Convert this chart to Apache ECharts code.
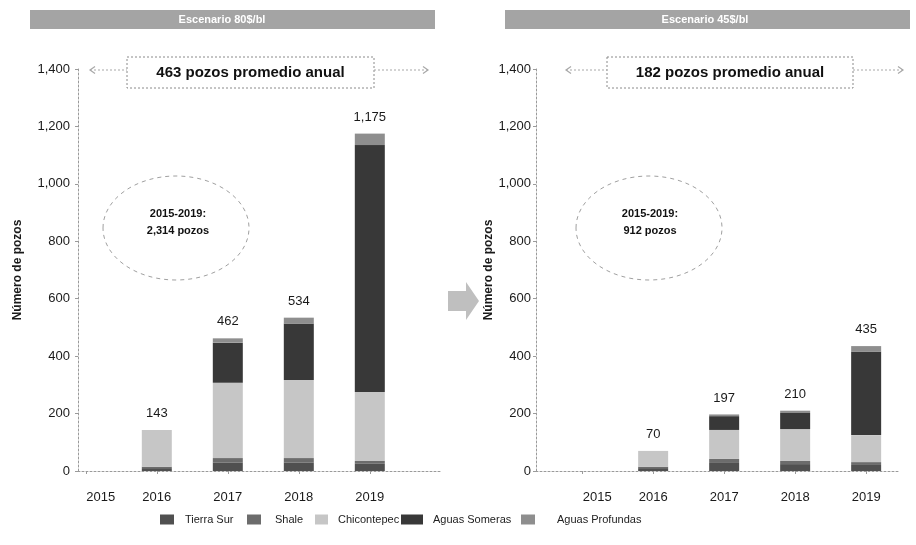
<!DOCTYPE html>
<html>
<head>
<meta charset="utf-8">
<script src="https://cdn.jsdelivr.net/npm/echarts@6/dist/echarts.min.js"></script>
<style>
  html, body { margin: 0; padding: 0; background: #fff; }
  #chart { width: 916px; height: 545px; }
</style>
</head>
<body>
<div id="chart"></div>
<script>
// Years on the horizontal axis
const years = [2015, 2016, 2017, 2018, 2019];
const seriesNames = ['Tierra Sur', 'Shale', 'Chicontepec', 'Aguas Someras', 'Aguas Profundas'];

// Wells per year, scenario 80 $/bl
const tierraSur80      = [0, 10, 30, 30, 25];
const shale80          = [0, 5, 15, 15, 10];
const chicontepec80    = [0, 128, 262, 272, 240];
const aguasSomeras80   = [0, 0, 140, 197, 860];
const aguasProfundas80 = [0, 0, 15, 20, 40];

// Wells per year, scenario 45 $/bl
const tierraSur45      = [0, 10, 28, 24, 21];
const shale45          = [0, 5, 14, 11, 10];
const chicontepec45    = [0, 55, 101, 111, 94];
const aguasSomeras45   = [0, 0, 48, 56, 290];
const aguasProfundas45 = [0, 0, 6, 8, 20];

// y-axis ticks
const yTicks = [0, 200, 400, 600, 800, 1000, 1200, 1400];

// Panel texts
const panelTitles = ['Escenario 80$/bl', 'Escenario 45$/bl'];
const averageTexts = ['463 pozos promedio anual', '182 pozos promedio anual'];
const periodLabel = '2015-2019:';
const periodTotals = ['2,314 pozos', '912 pozos'];

const colors = ['#505050', '#6c6c6c', '#c6c6c6', '#383838', '#8e8e8e'];

const panels = [
  [tierraSur80, shale80, chicontepec80, aguasSomeras80, aguasProfundas80],
  [tierraSur45, shale45, chicontepec45, aguasSomeras45, aguasProfundas45]
];

const totals = panels.map(p => years.map((_, i) => p.reduce((s, arr) => s + arr[i], 0)));

const fmt = v => v.toLocaleString('en-US');

// Geometry of the two plot areas (pixels) and the year span they show
const grids = [
  { left: 78, top: 69, width: 362, height: 402, yearMin: 2014.89 },
  { left: 536, top: 69, width: 364, height: 402, yearMin: 2014.35 }
];
const pxPerYear = 71;

const FONT = 'Liberation Sans, Arial, sans-serif';
const axisColor = '#9a9a9a';

// Legend placement: swatch left edge, swatch width, gap to text
const legendSlots = [
  { left: 160, w: 14, gap: 11 },
  { left: 247, w: 14, gap: 14 },
  { left: 315, w: 13, gap: 10 },
  { left: 401, w: 22, gap: 10 },
  { left: 521, w: 14, gap: 22 }
];

const option = {
  animation: false,
  backgroundColor: '#fff',
  textStyle: { fontFamily: FONT },
  grid: grids.map(g => ({ left: g.left, top: g.top, width: g.width, height: g.height, containLabel: false })),
  xAxis: grids.map((g, k) => ({
    type: 'value',
    gridIndex: k,
    min: g.yearMin,
    max: g.yearMin + g.width / pxPerYear,
    splitNumber: 5,
    splitLine: { show: false },
    axisLine: { show: true, lineStyle: { color: axisColor, type: [2, 2], width: 1 } },
    axisTick: { show: true, length: 3, lineStyle: { color: axisColor } },
    axisLabel: {
      showMinLabel: false,
      showMaxLabel: false,
      color: '#1a1a1a',
      fontSize: 13,
      margin: 20,
      formatter: v => {
        if (Math.abs(v - Math.round(v)) > 1e-6) return '';
        return v === years[0] ? '{first|' + v + '}' : String(v);
      },
      rich: { first: { fontSize: 13, color: '#1a1a1a', padding: [0, 0, 0, 30] } }
    }
  })),
  yAxis: grids.map((g, k) => ({
    type: 'value',
    gridIndex: k,
    min: yTicks[0],
    max: yTicks[yTicks.length - 1],
    interval: yTicks[1] - yTicks[0],
    name: 'Número de pozos',
    nameLocation: 'middle',
    nameGap: k === 0 ? 54 : 39,
    nameTextStyle: { fontSize: 12, fontWeight: 'bold', color: '#1a1a1a' },
    splitLine: { show: false },
    axisLine: { show: true, lineStyle: { color: axisColor, type: [2, 2], width: 1 } },
    axisTick: { show: true, length: 3, lineStyle: { color: axisColor } },
    axisLabel: { color: '#1a1a1a', fontSize: 13, margin: k === 0 ? 8 : 5, formatter: v => fmt(v) }
  })),
  legend: seriesNames.map((name, i) => {
    const s = legendSlots[i];
    return {
      left: s.left,
      top: 514,
      padding: 0,
      data: [name],
      icon: 'rect',
      itemWidth: s.w,
      itemHeight: 10,
      selectedMode: false,
      textStyle: { fontSize: 11, color: '#222', padding: [0, 0, 0, s.gap - 5] }
    };
  }),
  series: []
};

panels.forEach((panel, k) => {
  panel.forEach((arr, s) => {
    const isTop = s === panel.length - 1;
    option.series.push({
      type: 'bar',
      name: seriesNames[s],
      xAxisIndex: k,
      yAxisIndex: k,
      stack: 'panel' + k,
      barWidth: 30,
      itemStyle: { color: colors[s] },
      // value first so that the stacked dimension is the well count
      data: years.map((y, i) => [arr[i], y]),
      encode: { x: 1, y: 0 },
      label: isTop ? {
        show: true,
        position: 'top',
        distance: 10,
        fontSize: 13,
        color: '#1a1a1a',
        formatter: p => totals[k][p.dataIndex] > 0 ? fmt(totals[k][p.dataIndex]) : ''
      } : { show: false }
    });
  });
});

// Decorations: header bands, average boxes with arrows, period ellipses, middle arrow
const graphics = [];
const bands = [{ x: 30, w: 405, tx: 222 }, { x: 505, w: 405, tx: 705 }];
bands.forEach((b, k) => {
  graphics.push({ type: 'rect', shape: { x: b.x, y: 10, width: b.w, height: 19 }, style: { fill: '#a4a4a4' } });
  graphics.push({ type: 'text', x: b.tx, y: 19.5, style: { text: panelTitles[k], fill: '#fff', font: 'bold 11px ' + FONT, textAlign: 'center', textVerticalAlign: 'middle' } });
});

const boxes = [
  { x: 127, w: 247, arrowL: 90, arrowR: 428 },
  { x: 607, w: 246, arrowL: 566, arrowR: 903 }
];
boxes.forEach((b, k) => {
  const cy = 70;
  graphics.push({ type: 'rect', shape: { x: b.x, y: 57, width: b.w, height: 31 }, style: { fill: '#fff', stroke: '#8a8a8a', lineWidth: 1, lineDash: [2, 2] } });
  graphics.push({ type: 'text', x: b.x + b.w / 2, y: 72.5, style: { text: averageTexts[k], fill: '#111', font: 'bold 15px ' + FONT, textAlign: 'center', textVerticalAlign: 'middle' } });
  graphics.push({ type: 'line', shape: { x1: b.arrowL, y1: cy, x2: b.x, y2: cy }, style: { stroke: '#a8a8a8', lineWidth: 1, lineDash: [2, 2] } });
  graphics.push({ type: 'line', shape: { x1: b.x + b.w, y1: cy, x2: b.arrowR, y2: cy }, style: { stroke: '#a8a8a8', lineWidth: 1, lineDash: [2, 2] } });
  graphics.push({ type: 'polyline', shape: { points: [[b.arrowL + 5, cy - 3.5], [b.arrowL, cy], [b.arrowL + 5, cy + 3.5]] }, style: { stroke: '#a8a8a8', lineWidth: 1.2, fill: null } });
  graphics.push({ type: 'polyline', shape: { points: [[b.arrowR - 5, cy - 3.5], [b.arrowR, cy], [b.arrowR - 5, cy + 3.5]] }, style: { stroke: '#a8a8a8', lineWidth: 1.2, fill: null } });
});

const ellipses = [{ cx: 176, tx: 178 }, { cx: 649, tx: 650 }];
ellipses.forEach((e, k) => {
  graphics.push({ type: 'ellipse', shape: { cx: e.cx, cy: 228, rx: 73, ry: 52 }, style: { fill: null, stroke: '#a0a0a0', lineWidth: 1, lineDash: [4, 4] } });
  graphics.push({ type: 'text', x: e.tx, y: 214, style: { text: periodLabel, fill: '#111', font: 'bold 11px ' + FONT, textAlign: 'center', textVerticalAlign: 'middle' } });
  graphics.push({ type: 'text', x: e.tx, y: 231, style: { text: periodTotals[k], fill: '#111', font: 'bold 11px ' + FONT, textAlign: 'center', textVerticalAlign: 'middle' } });
});

graphics.push({
  type: 'polygon',
  shape: { points: [[448, 291], [466, 291], [466, 282], [479, 301], [466, 320], [466, 311], [448, 311]] },
  style: { fill: '#bfbfbf' }
});

option.graphic = graphics;

const chart = echarts.init(document.getElementById('chart'), null, { renderer: 'canvas' });
chart.setOption(option);
</script>
</body>
</html>
